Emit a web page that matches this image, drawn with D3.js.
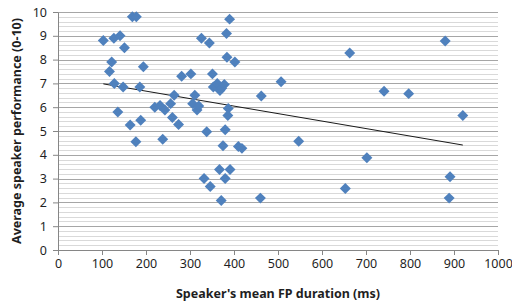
<!DOCTYPE html>
<html>
<head>
<meta charset="utf-8">
<script src="https://cdn.jsdelivr.net/npm/d3@7"></script>
<style>
  body { margin: 0; background: #fff; }
  text { font-family: "Noto Sans", "Open Sans", sans-serif; fill: #262626; }
</style>
</head>
<body>
<div id="chart"></div>
<script>
// speaker mean FP duration (ms)
var fpDuration = [103, 127, 141, 151, 169, 178, 122, 117, 128, 148, 186, 194, 136, 164, 188, 177,
  238, 220, 232, 243, 256, 264, 260, 274, 281, 302, 311, 306, 316, 320, 338, 326, 344, 351, 353,
  362, 368, 372, 378, 383, 390, 384, 402, 387, 386, 380, 375, 410, 418, 332, 346, 367, 391, 380,
  371, 460, 462, 507, 547, 663, 741, 797, 880, 920, 702, 653, 891, 889];
// average speaker performance (0-10)
var performance = [8.8, 8.9, 9.0, 8.5, 9.8, 9.8, 7.9, 7.5, 7.0, 6.85, 6.85, 7.7, 5.8, 5.25, 5.45, 4.55,
  4.65, 6.0, 6.07, 5.88, 6.15, 6.5, 5.57, 5.27, 7.3, 7.4, 6.5, 6.15, 5.88, 6.05, 4.97, 8.9, 8.7, 7.4, 6.85,
  7.0, 6.7, 6.8, 6.95, 9.1, 9.7, 8.1, 7.9, 5.95, 5.65, 5.05, 4.38, 4.35, 4.27, 3.0, 2.67, 3.38, 3.38, 3.0,
  2.08, 2.18, 6.47, 7.07, 4.57, 8.28, 6.67, 6.57, 8.78, 5.65, 3.88, 2.58, 3.08, 2.18];

// linear trendline end points as drawn
var trendX = [103, 920];
var trendY = [6.98, 4.41];

var xTicks = [0, 100, 200, 300, 400, 500, 600, 700, 800, 900, 1000];
var yTicks = [0, 1, 2, 3, 4, 5, 6, 7, 8, 9, 10];

var margin = {top: 12, right: 14, bottom: 54, left: 58},
    width = 512 - margin.left - margin.right,
    height = 304 - margin.top - margin.bottom;

var svg = d3.select("#chart").append("svg")
  .attr("width", 512)
  .attr("height", 304);

var g = svg.append("g")
  .attr("transform", "translate(" + margin.left + "," + margin.top + ")");

var x = d3.scaleLinear().domain([0, 1000]).range([0, width]);
var y = d3.scaleLinear().domain([0, 10]).range([height, 0]);

// minor gridlines every 0.2
var minor = d3.range(0, 10.001, 0.2).filter(function(v) { return Math.abs(v - Math.round(v)) > 0.01; });
g.selectAll(".minor").data(minor).enter().append("line")
  .attr("x1", 0).attr("x2", width)
  .attr("y1", function(d) { return Math.round(y(d)) + 0.5; })
  .attr("y2", function(d) { return Math.round(y(d)) + 0.5; })
  .style("stroke", "#d9d9d9").style("stroke-width", 1);

// major gridlines
g.selectAll(".major").data(yTicks.slice(1)).enter().append("line")
  .attr("x1", 0).attr("x2", width)
  .attr("y1", function(d) { return Math.round(y(d)) + 0.5; })
  .attr("y2", function(d) { return Math.round(y(d)) + 0.5; })
  .style("stroke", "#a6a6a6").style("stroke-width", 1);

// axes
var xAxis = d3.axisBottom(x).tickValues(xTicks).tickFormat(d3.format("d"))
  .tickSizeInner(5).tickSizeOuter(0).tickPadding(4);
var yAxis = d3.axisLeft(y).tickValues(yTicks).tickFormat(d3.format("d"))
  .tickSizeInner(5).tickSizeOuter(0).tickPadding(6);

var gx = g.append("g")
  .attr("transform", "translate(0," + height + ")")
  .call(xAxis);
var gy = g.append("g").call(yAxis);

[gx, gy].forEach(function(a) {
  a.selectAll("path, line").style("stroke", "#868686");
  a.selectAll("text").style("font-size", "12.5px").style("fill", "#1f1f1f")
    .style("font-family", '"Noto Sans", sans-serif');
});

// trendline
g.append("line")
  .attr("x1", x(trendX[0])).attr("y1", y(trendY[0]))
  .attr("x2", x(trendX[1])).attr("y2", y(trendY[1]))
  .style("stroke", "#1a1a1a").style("stroke-width", 1);

// diamonds
var diamond = d3.symbol().type(d3.symbolSquare).size(60);
g.selectAll(".pt").data(fpDuration).enter().append("path")
  .attr("class", "pt")
  .attr("d", diamond)
  .attr("transform", function(d, i) {
    return "translate(" + x(d) + "," + y(performance[i]) + ") rotate(45)";
  })
  .style("fill", "#4f81bd");

// axis titles
svg.append("text")
  .attr("x", margin.left + width / 2)
  .attr("y", 298)
  .attr("text-anchor", "middle")
  .style("font-weight", "bold")
  .style("font-size", "12.5px")
  .style("fill", "#1f1f1f")
  .text("Speaker's mean FP duration (ms)");

svg.append("text")
  .attr("transform", "translate(21," + (margin.top + height / 2) + ") rotate(-90)")
  .attr("text-anchor", "middle")
  .style("font-weight", "bold")
  .style("font-size", "12.5px")
  .style("fill", "#1f1f1f")
  .text("Average speaker performance (0-10)");
</script>
</body>
</html>
